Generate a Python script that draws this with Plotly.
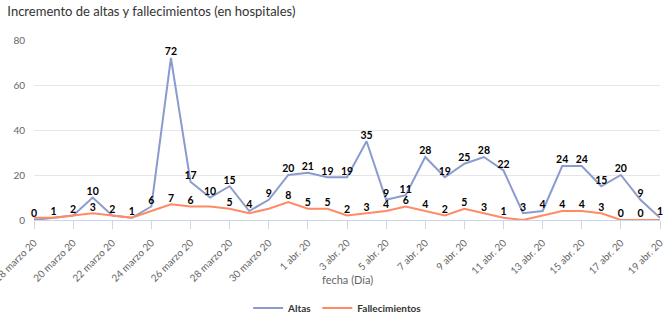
import plotly.graph_objects as go

fechas = ["18 marzo 20", "19 marzo 20", "20 marzo 20", "21 marzo 20", "22 marzo 20", "23 marzo 20",
          "24 marzo 20", "25 marzo 20", "26 marzo 20", "27 marzo 20", "28 marzo 20", "29 marzo 20",
          "30 marzo 20", "31 marzo 20", "1 abr. 20", "2 abr. 20", "3 abr. 20", "4 abr. 20",
          "5 abr. 20", "6 abr. 20", "7 abr. 20", "8 abr. 20", "9 abr. 20", "10 abr. 20",
          "11 abr. 20", "12 abr. 20", "13 abr. 20", "14 abr. 20", "15 abr. 20", "16 abr. 20",
          "17 abr. 20", "18 abr. 20", "19 abr. 20"]

altas = [0, 1, 2, 10, 2, 1, 6, 72, 17, 10, 15, 4, 9, 20, 21, 19, 19, 35, 9, 11, 28, 19, 25, 28,
         22, 3, 4, 24, 24, 15, 20, 9, 1]

fallecimientos = [1, 1, 2, 3, 2, 1, 4, 7, 6, 6, 5, 3, 5, 8, 5, 5, 2, 3, 4, 6, 4, 2, 5, 3,
                  1, 0, 2, 4, 4, 3, 0, 0, 0]

# dates whose death label is hidden in the original (overlaps the other series' label)
fall_ocultas = {"18 marzo 20", "19 marzo 20", "20 marzo 20", "22 marzo 20", "23 marzo 20",
                "24 marzo 20", "27 marzo 20", "29 marzo 20", "30 marzo 20",
                "12 abr. 20", "13 abr. 20", "19 abr. 20"}

tick_fechas = fechas[::2]

txt_altas = [str(v) for v in altas]
txt_fall = ["" if f in fall_ocultas else str(v) for f, v in zip(fechas, fallecimientos)]

FONT = "Lato, 'Open Sans', sans-serif"
lbl_font = dict(family=FONT, size=10.5, color="#000000", weight="bold")

fig = go.Figure()
fig.add_trace(go.Scatter(x=fechas, y=altas, name="Altas", mode="lines+text",
                         line=dict(color="#8a9ccf", width=2),
                         text=txt_altas, textposition="top center", textfont=lbl_font,
                         cliponaxis=False))
fig.add_trace(go.Scatter(x=fechas, y=fallecimientos, name="Fallecimientos", mode="lines+text",
                         line=dict(color="#ff8a65", width=2),
                         text=txt_fall, textposition="top center", textfont=lbl_font,
                         cliponaxis=False))

fig.update_layout(
    width=670, height=324,
    margin=dict(l=34, r=10, t=40, b=104),
    paper_bgcolor="white", plot_bgcolor="white",
    font=dict(family=FONT, color="#666666", size=11),
    title=dict(text="Incremento de altas y fallecimientos (en hospitales)",
               x=0.011, xanchor="left", y=1 - 11 / 324, yanchor="middle",
               font=dict(family=FONT, size=13, color="#333333")),
    showlegend=True,
    legend=dict(orientation="h", x=0.485, xanchor="center", yref="container",
                y=1 - 308 / 324, yanchor="middle", itemwidth=30,
                font=dict(family=FONT, size=10, color="#333333", weight="bold")),
    xaxis=dict(type="category", range=[0, len(fechas) - 1],
               tickmode="array", tickvals=tick_fechas, ticktext=tick_fechas,
               tickangle=-45, tickfont=dict(size=10, color="#666666"),
               ticklabelstandoff=4,
               showgrid=False, showline=True, linecolor="#ccd6eb", linewidth=1,
               ticks="outside", ticklen=8, tickcolor="#ccd6eb", automargin=False,
               zeroline=False),
    yaxis=dict(range=[0, 80], tickvals=[0, 20, 40, 60, 80],
               tickfont=dict(size=10, color="#666666"),
               ticklabelstandoff=8,
               showgrid=True, gridcolor="#e6e6e6", gridwidth=1,
               zeroline=False, showline=False, ticks="", automargin=False),
    annotations=[dict(text="fecha (Día)", xref="paper", yref="paper", x=0.5, y=-0.333,
                      showarrow=False, xanchor="center", yanchor="middle",
                      font=dict(family=FONT, size=11, color="#666666"))],
)

fig.write_html("out.html")
